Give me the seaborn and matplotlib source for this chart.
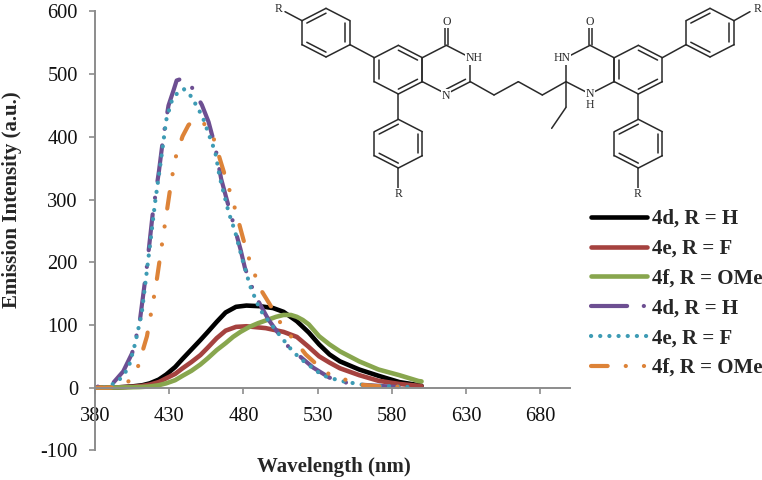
import seaborn as sns
import matplotlib.pyplot as plt

sns.set_style('ticks')
plt.rcParams['font.family'] = 'Liberation Serif'
plt.rcParams['lines.scale_dashes'] = False
plt.rcParams['axes.unicode_minus'] = False

# solid curves
d4_solid_x = [380,395,405,412,417,423,428,434,439,445,451,456,462,468,475,482,491,500,507,516,
              524,531,538,545,558,571,585,598,600]
d4_solid = [0,0.5,2,4,7,13,21,33,46,61,76,89,105,120,129,131,130,127,121,106,
            88,69,53,42,29,19,9,4,3]
e4_solid_x = [380,395,405,412,417,423,428,434,439,445,451,456,462,468,475,482,495,507,516,524,
              531,538,545,558,571,585,598,600]
e4_solid = [0,0.5,1.5,3,5,9,15,22,31,41,52,64,79,91,97,98,95,89,81,65,
            50,40,31,20,11,6,3,2.5]
f4_solid_x = [380,400,410,417,423,428,434,439,445,451,456,462,468,473,478,484,490,496,502,507,
              512,516,520,524,531,538,545,558,571,585,598,600]
f4_solid = [0,0.5,1,2,4,7,12,19,27,37,47,60,71,81,89,97,103,108,113,116,
            116,113,108,101,82,69,58,42,29,20,10.6,10]

# dashed curves
d4_x = [380,385,392,399,405,410,415,419,423,426,429.5,433,435,437.5,443,447.5,452,456.5,461,465,
        469,473,478,481,486,490,497,505,512,518,527,538,547,558,574,585,594]
d4_dash = [1,3,7,26,55,103,194,280,344,400,450,475,490,492,488,470,451,424,384,333,
           298,264,221,191,159,138,108,82,60,50,32,16,9,5,2.6,1,0]

e4_x = [380,388,395.5,402.5,407,411.5,416,420.5,424,428,431.5,436,440,445,452.5,456.5,461,464,470,474.5,
        479,484.5,491,498,505,512.5,518,533,545,562,575,593]
e4_dash = [0,1,10,31,70,119,207,296,355,427,456,472,476,464,432,405,376,336,280,248,
           207,162,125,103,82,60,47,20,11,4,2.6,1]

f4_x = [380,390,396,402.5,409,415,421,426,431,434,439,443,447.5,453.5,460,465,471,475,480,484,
        491,497.5,507,515,522,528,538,551,558,569,585,592]
f4_dash = [0,0,2,10,34,82,162,243,323,365,401,419,428,421,397,358,312,280,236,204,
           159,134,95,74,53,40,21,11,5,2.6,1.5,0.5]

legend_labels = ['4d, R = H', '4e, R = F', '4f, R = OMe', '4d, R = H', '4e, R = F', '4f, R = OMe']

fig = plt.figure(figsize=(7.62, 4.8), dpi=100)
ax = fig.add_axes([95/762, 1 - 450.4/480, (570 - 95)/762, (450.4 - 11.5)/480])

sns.lineplot(x=d4_solid_x, y=d4_solid, ax=ax, color='black', lw=3.3, errorbar=None, label=legend_labels[0])
sns.lineplot(x=e4_solid_x, y=e4_solid, ax=ax, color='#a5423f', lw=3.3, errorbar=None, label=legend_labels[1])
sns.lineplot(x=f4_solid_x, y=f4_solid, ax=ax, color='#88a64e', lw=3.3, errorbar=None, label=legend_labels[2])
sns.lineplot(x=d4_x, y=d4_dash, ax=ax, color='#6d4f92', lw=3, errorbar=None, label=legend_labels[3],
             linestyle=(36, (26, 12, 0.1, 12)), dash_capstyle='round')
sns.lineplot(x=e4_x, y=e4_dash, ax=ax, color='#3d9bb4', lw=3, errorbar=None, label=legend_labels[4],
             linestyle=(0, (0.1, 6.5)), dash_capstyle='round')
sns.lineplot(x=f4_x, y=f4_dash, ax=ax, color='#dd8338', lw=3, errorbar=None, label=legend_labels[5],
             linestyle=(0, (12, 13, 0.1, 13, 0.1, 13)), dash_capstyle='round')

ax.set_xlim(380, 700)
ax.set_ylim(-100, 600)
ax.set_xticks(range(380, 700, 50))
ax.set_yticks(range(-100, 700, 100))
ax.set_xlabel('')
ax.set_ylabel('')
ax.patch.set_alpha(0)
sns.despine(ax=ax)
ax.spines['bottom'].set_position(('data', 0))
for s in ['left', 'bottom']:
    ax.spines[s].set_color('#8c8c8c')
    ax.spines[s].set_linewidth(1.4)
ax.tick_params(axis='both', labelsize=14.7, length=4.3, width=1.2, color='#8c8c8c', labelcolor='#111111', pad=8)
ax.tick_params(axis='x', pad=9.5)

fig.text(333.5/762, 1 - 467/480, 'Wavelength (nm)', fontsize=15, fontweight='bold', ha='center', va='center')
fig.text(12/762, 1 - 199.5/480, 'Emission Intensity (a.u.)', fontsize=15, fontweight='bold',
         ha='center', va='center', rotation=90)

leg = ax.legend(loc='upper left', bbox_to_anchor=(591/762, 1 - 209/480), bbox_transform=fig.transFigure,
                frameon=False, borderpad=0, borderaxespad=0, handlelength=2.67, handletextpad=0.25,
                labelspacing=0.47, prop={'family': 'Liberation Serif', 'weight': 'bold', 'size': 15})
leg.get_lines()[3].set_linestyle((0, (26, 12, 0.1, 12)))

# chemical structure, drawn in its own overlay
mol = fig.add_axes([240/762, 1 - 205/480, 522/762, 205/480])
mol.set_xlim(0, 1566)
mol.set_ylim(615, 0)
mol.axis('off')

ink = '#2a2a2a'


def bond(a, b):
    mol.plot([a[0], b[0]], [a[1], b[1]], color=ink, lw=1.1, solid_capstyle='round')


def ring(cx, cy, doubles):
    pts = [(cx, cy - 73), (cx + 72, cy - 36), (cx + 72, cy + 36),
           (cx, cy + 73), (cx - 72, cy + 36), (cx - 72, cy - 36)]
    for i in range(6):
        a, b = pts[i], pts[(i + 1) % 6]
        bond(a, b)
        if i in doubles:
            # inner line of the double bond
            a2 = (cx + (a[0] - cx) * 0.8, cy + (a[1] - cy) * 0.8)
            b2 = (cx + (b[0] - cx) * 0.8, cy + (b[1] - cy) * 0.8)
            bond(a2, b2)


ring(258, 98, [5, 1, 3])
ring(475, 209, [0, 4, 2])
ring(619, 209, [2])
ring(475, 431, [5, 1, 3])
ring(1195, 209, [0, 2, 4])
ring(1050, 209, [])
ring(1410, 98, [5, 1, 3])
ring(1195, 431, [5, 1, 3])

bond((330, 134), (403, 173))
bond((475, 282), (475, 358))
bond((186, 62), (135, 35))
bond((475, 504), (475, 565))
bond((615, 136), (615, 80))
bond((624, 136), (624, 80))
bond((691, 245), (762, 285))
bond((762, 285), (835, 245))
bond((835, 245), (907, 285))
bond((907, 285), (978, 245))
bond((978, 245), (978, 322))
bond((978, 322), (935, 385))
bond((1046, 136), (1046, 80))
bond((1055, 136), (1055, 80))
bond((1267, 173), (1338, 134))
bond((1195, 282), (1195, 358))
bond((1482, 62), (1530, 35))
bond((1195, 504), (1195, 565))

for lx, ly, t in [(703, 175, 'NH'), (619, 288, 'N'), (619, 65, 'O'), (966, 175, 'HN'), (1050, 298, 'N\nH'),
                  (1050, 65, 'O'), (115, 28, 'R'), (475, 583, 'R'), (1192, 583, 'R'),
                  (1552, 28, 'R')]:
    mol.text(lx, ly, t, fontsize=8.5, color=ink, ha='center', va='center', linespacing=0.85,
             bbox=dict(facecolor='white', edgecolor='none', pad=0.6))

plt.savefig('out.png', dpi=100)
